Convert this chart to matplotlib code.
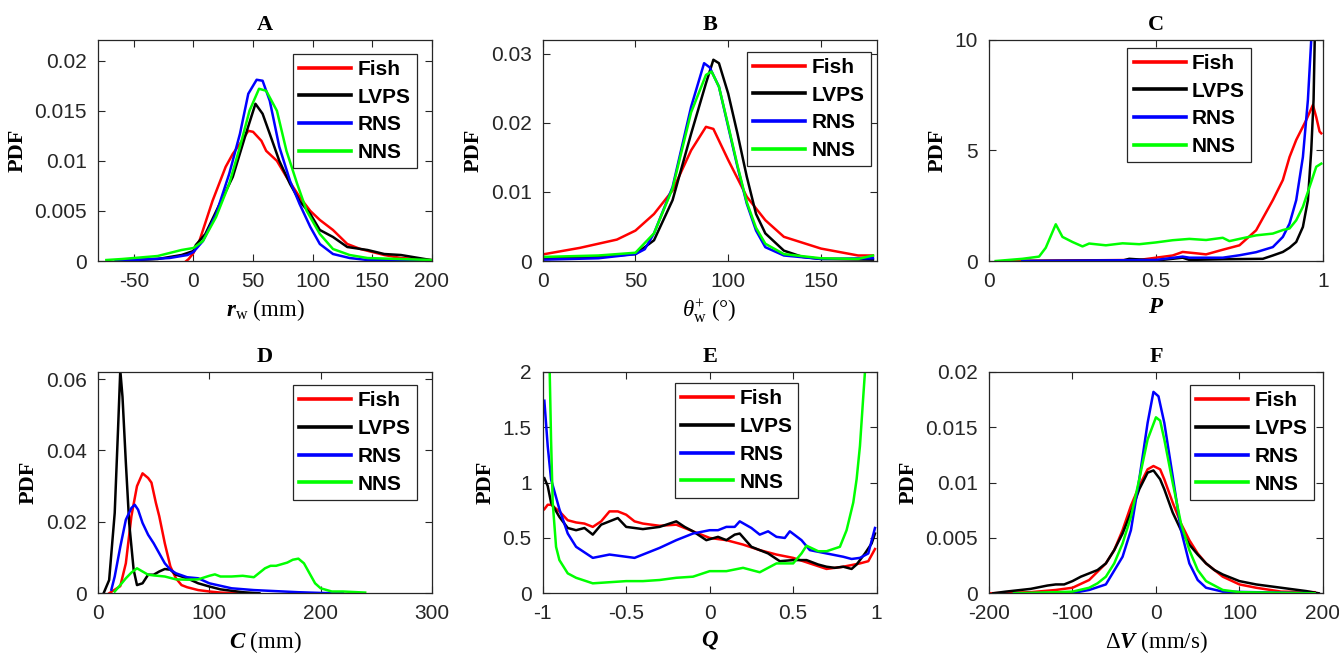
import matplotlib
matplotlib.use('Agg')
import matplotlib.pyplot as plt
from matplotlib.ticker import FuncFormatter

# fonts: arial-like ticks, times-like labels
plt.rcParams['font.family'] = 'Liberation Sans'
plt.rcParams['mathtext.fontset'] = 'custom'
plt.rcParams['mathtext.rm'] = 'Liberation Serif'
plt.rcParams['mathtext.it'] = 'Liberation Serif:italic'
plt.rcParams['mathtext.bf'] = 'Liberation Serif:bold'
plt.rcParams['mathtext.bfit'] = 'Liberation Serif:italic:bold'

names = ['Fish', 'LVPS', 'RNS', 'NNS']
colors = ['#ff0000', '#000000', '#0000ff', '#00ff00']

# A - r_w
a_fish_x = [-6, -4, 0, 5, 16, 27, 33, 39, 46, 50, 57, 61, 70, 78, 89, 98, 106, 117, 129, 140, 160, 174, 199]
a_fish_y = [0, 0.0002, 0.0008, 0.002, 0.006, 0.0094, 0.0107, 0.0117, 0.013, 0.0129, 0.012, 0.011, 0.010, 0.0084, 0.0064, 0.005, 0.0041, 0.0031, 0.0017, 0.0012, 0.0006, 0.0003, 0.0001]
a_lvps_x = [-65, -50, -30, -10, 0, 2, 10, 22, 33, 44, 52, 58, 64, 72, 81, 89, 98, 106, 117, 129, 146, 160, 174, 199]
a_lvps_y = [0, 0.0001, 0.0002, 0.0006, 0.001, 0.0016, 0.0027, 0.0057, 0.0084, 0.0127, 0.0157, 0.0147, 0.0127, 0.010, 0.0077, 0.006, 0.0047, 0.0031, 0.0024, 0.0014, 0.0011, 0.0007, 0.0006, 0.0001]
a_rns_x = [-65, -50, -35, -20, -5, 0, 8, 19, 30, 39, 46, 53, 58, 64, 72, 81, 89, 98, 106, 117, 131, 146, 200]
a_rns_y = [0, 0.0001, 0.0002, 0.0003, 0.0006, 0.0009, 0.002, 0.0047, 0.0087, 0.0127, 0.0167, 0.0181, 0.018, 0.016, 0.0114, 0.008, 0.0057, 0.0034, 0.0017, 0.0007, 0.0003, 0.0001, 0]
a_nns_x = [-73, -60, -50, -40, -30, -20, -10, -5, 0, 8, 19, 30, 39, 47, 55, 61, 70, 78, 87, 95, 106, 117, 131, 146, 200]
a_nns_y = [0.0001, 0.0002, 0.0003, 0.0004, 0.0005, 0.0008, 0.0011, 0.0012, 0.0013, 0.002, 0.0044, 0.0077, 0.0114, 0.015, 0.0172, 0.017, 0.015, 0.011, 0.0077, 0.005, 0.0027, 0.0012, 0.0006, 0.0003, 0.0001]

# B - theta_w
b_fish_x = [1, 20, 40, 50, 60, 70, 80, 88, 92, 100, 110, 120, 130, 150, 170, 178]
b_fish_y = [0.001, 0.0019, 0.0031, 0.0044, 0.0068, 0.0102, 0.016, 0.0194, 0.0191, 0.0146, 0.0093, 0.0059, 0.0035, 0.0018, 0.0008, 0.0008]
b_lvps_x = [1, 30, 50, 60, 70, 80, 88, 92, 95, 100, 105, 110, 115, 120, 130, 140, 150, 178]
b_lvps_y = [0.0004, 0.0006, 0.001, 0.003, 0.0088, 0.0184, 0.0257, 0.0291, 0.0286, 0.0242, 0.0184, 0.0122, 0.0068, 0.004, 0.0015, 0.0006, 0.0003, 0.0002]
b_rns_x = [1, 30, 50, 55, 60, 70, 80, 87, 90, 95, 100, 105, 110, 115, 120, 130, 150, 178]
b_rns_y = [0.0002, 0.0004, 0.001, 0.0017, 0.004, 0.0107, 0.0223, 0.0286, 0.028, 0.0252, 0.0194, 0.0136, 0.0083, 0.0044, 0.002, 0.0008, 0.0003, 0.0004]
b_nns_x = [1, 30, 50, 60, 70, 80, 88, 91, 95, 100, 105, 110, 115, 120, 130, 150, 170, 178]
b_nns_y = [0.0006, 0.0008, 0.0012, 0.004, 0.0105, 0.0215, 0.0269, 0.0274, 0.0252, 0.0196, 0.0138, 0.0085, 0.0048, 0.0025, 0.001, 0.0004, 0.0003, 0.0008]

# C - P
c_fish_x = [0.05, 0.2, 0.45, 0.5, 0.55, 0.58, 0.62, 0.65, 0.7, 0.75, 0.8, 0.85, 0.88, 0.9, 0.92, 0.95, 0.97, 0.98, 0.99, 0.995]
c_fish_y = [0, 0.02, 0.05, 0.15, 0.25, 0.41, 0.35, 0.3, 0.51, 0.71, 1.39, 2.75, 3.66, 4.7, 5.47, 6.37, 7.05, 6.5, 5.85, 5.77]
c_lvps_x = [0.1, 0.4, 0.42, 0.5, 0.58, 0.6, 0.7, 0.82, 0.85, 0.88, 0.9, 0.92, 0.94, 0.955, 0.965, 0.972, 0.978]
c_lvps_y = [0, 0.02, 0.1, 0.02, 0.15, 0.05, 0.08, 0.1, 0.25, 0.41, 0.6, 0.86, 1.54, 2.75, 5.0, 7.3, 12]
c_rns_x = [0.1, 0.3, 0.5, 0.58, 0.6, 0.7, 0.75, 0.8, 0.85, 0.88, 0.9, 0.92, 0.94, 0.955, 0.965, 0.97]
c_rns_y = [0, 0.02, 0.05, 0.2, 0.15, 0.15, 0.26, 0.4, 0.63, 1.09, 1.69, 2.75, 4.7, 7.28, 10, 12]
c_nns_x = [0.02, 0.1, 0.15, 0.17, 0.2, 0.22, 0.25, 0.28, 0.3, 0.35, 0.4, 0.45, 0.5, 0.55, 0.6, 0.65, 0.7, 0.72, 0.75, 0.8, 0.85, 0.88, 0.9, 0.92, 0.94, 0.96, 0.98, 0.995]
c_nns_y = [0, 0.1, 0.2, 0.6, 1.66, 1.09, 0.86, 0.66, 0.79, 0.71, 0.8, 0.76, 0.84, 0.94, 1.0, 0.95, 1.05, 0.9, 1.0, 1.16, 1.24, 1.4, 1.47, 1.84, 2.45, 3.35, 4.26, 4.4]

# D - C
d_fish_x = [10, 20, 25, 30, 35, 40, 45, 48, 52, 55, 60, 65, 70, 75, 80, 90, 100, 110, 125]
d_fish_y = [0, 0.002, 0.0084, 0.0216, 0.03, 0.0336, 0.0323, 0.031, 0.0253, 0.0216, 0.014, 0.0075, 0.0042, 0.0023, 0.0017, 0.0009, 0.0005, 0.0002, 0]
d_lvps_x = [5, 10, 15, 18, 20, 22, 25, 28, 32, 35, 40, 45, 50, 55, 60, 65, 70, 80, 90, 100, 110, 120, 130, 145]
d_lvps_y = [0, 0.0037, 0.0225, 0.046, 0.0625, 0.055, 0.0366, 0.0197, 0.0066, 0.0023, 0.0028, 0.0052, 0.0052, 0.0061, 0.0068, 0.0066, 0.0052, 0.0042, 0.0028, 0.0019, 0.0011, 0.0007, 0.0003, 0]
d_rns_x = [12, 15, 20, 25, 30, 33, 36, 40, 45, 50, 55, 60, 65, 70, 80, 90, 100, 120, 140, 160, 180, 200, 220]
d_rns_y = [0.001, 0.0047, 0.013, 0.0206, 0.0239, 0.0248, 0.0234, 0.0197, 0.0164, 0.014, 0.0112, 0.0084, 0.0066, 0.0056, 0.0045, 0.0042, 0.0028, 0.0014, 0.0009, 0.0006, 0.0003, 0.0001, 0]
d_nns_x = [15, 20, 25, 30, 35, 40, 45, 50, 60, 70, 80, 90, 100, 105, 110, 120, 130, 140, 150, 155, 160, 170, 175, 180, 185, 190, 195, 200, 210, 220, 240]
d_nns_y = [0.0005, 0.0023, 0.0042, 0.0058, 0.007, 0.0061, 0.0052, 0.005, 0.0047, 0.0039, 0.0038, 0.0039, 0.0049, 0.0053, 0.0047, 0.0047, 0.0049, 0.0045, 0.007, 0.0077, 0.0077, 0.0086, 0.0094, 0.0097, 0.0084, 0.0056, 0.0028, 0.0014, 0.0005, 0.0005, 0.0002]

# E - Q
e_fish_x = [-0.99, -0.97, -0.95, -0.9, -0.85, -0.8, -0.75, -0.7, -0.65, -0.6, -0.55, -0.5, -0.45, -0.4, -0.3, -0.2, -0.1, 0, 0.1, 0.2, 0.3, 0.4, 0.5, 0.6, 0.7, 0.8, 0.9, 0.95, 0.99]
e_fish_y = [0.76, 0.8, 0.8, 0.74, 0.66, 0.64, 0.63, 0.6, 0.65, 0.74, 0.74, 0.71, 0.65, 0.63, 0.61, 0.62, 0.56, 0.5, 0.48, 0.44, 0.39, 0.35, 0.32, 0.27, 0.22, 0.24, 0.27, 0.29, 0.4]
e_lvps_x = [-0.99, -0.97, -0.95, -0.9, -0.85, -0.8, -0.75, -0.7, -0.65, -0.6, -0.55, -0.5, -0.4, -0.3, -0.2, -0.15, -0.1, -0.02, 0.05, 0.1, 0.15, 0.18, 0.25, 0.35, 0.42, 0.5, 0.58, 0.65, 0.7, 0.75, 0.8, 0.85, 0.88, 0.93, 0.97, 0.99]
e_lvps_y = [1.04, 0.97, 0.82, 0.69, 0.59, 0.57, 0.59, 0.53, 0.62, 0.65, 0.68, 0.6, 0.58, 0.6, 0.65, 0.6, 0.56, 0.48, 0.51, 0.48, 0.53, 0.54, 0.42, 0.36, 0.29, 0.3, 0.3, 0.26, 0.24, 0.23, 0.24, 0.22, 0.26, 0.36, 0.45, 0.54]
e_rns_x = [-0.99, -0.97, -0.95, -0.9, -0.85, -0.8, -0.7, -0.6, -0.5, -0.45, -0.4, -0.3, -0.2, -0.1, 0, 0.05, 0.1, 0.15, 0.18, 0.25, 0.3, 0.35, 0.4, 0.45, 0.48, 0.55, 0.6, 0.7, 0.8, 0.85, 0.9, 0.95, 0.99]
e_rns_y = [1.74, 1.33, 1.03, 0.76, 0.54, 0.42, 0.32, 0.35, 0.33, 0.32, 0.35, 0.41, 0.48, 0.54, 0.57, 0.57, 0.6, 0.6, 0.65, 0.59, 0.53, 0.56, 0.51, 0.5, 0.56, 0.48, 0.39, 0.36, 0.33, 0.31, 0.32, 0.36, 0.59]
e_nns_x = [-0.97, -0.958, -0.95, -0.94, -0.92, -0.9, -0.85, -0.8, -0.7, -0.6, -0.5, -0.4, -0.3, -0.2, -0.1, 0, 0.1, 0.2, 0.3, 0.4, 0.5, 0.55, 0.58, 0.65, 0.7, 0.78, 0.82, 0.86, 0.88, 0.9, 0.92, 0.93, 0.95]
e_nns_y = [3.0, 2.0, 1.39, 0.82, 0.42, 0.3, 0.18, 0.14, 0.09, 0.1, 0.11, 0.11, 0.12, 0.14, 0.15, 0.2, 0.2, 0.23, 0.19, 0.27, 0.27, 0.36, 0.43, 0.38, 0.38, 0.42, 0.57, 0.82, 1.03, 1.33, 1.78, 2.0, 3.0]

# F - delta V
f_fish_x = [-200, -150, -120, -100, -80, -60, -50, -40, -30, -20, -10, -3, 5, 10, 20, 30, 40, 50, 60, 80, 100, 120, 150, 190]
f_fish_y = [0, 0.0001, 0.0003, 0.0005, 0.0012, 0.0027, 0.0039, 0.0057, 0.0079, 0.0097, 0.0112, 0.0115, 0.0112, 0.0103, 0.0082, 0.0063, 0.0048, 0.0036, 0.0027, 0.0015, 0.0008, 0.0005, 0.00015, 0.0001]
f_lvps_x = [-195, -180, -150, -130, -120, -110, -100, -90, -80, -70, -60, -50, -40, -30, -20, -10, -3, 5, 10, 20, 30, 40, 50, 60, 70, 80, 100, 120, 150, 180, 195]
f_lvps_y = [0, 0.00015, 0.0004, 0.0007, 0.0008, 0.0008, 0.0011, 0.0015, 0.0018, 0.0021, 0.0027, 0.0039, 0.0054, 0.0073, 0.0094, 0.0109, 0.0111, 0.0103, 0.0094, 0.0073, 0.0057, 0.0044, 0.0035, 0.0027, 0.0021, 0.0017, 0.0011, 0.0008, 0.0005, 0.0002, 0]
f_rns_x = [-170, -100, -80, -60, -40, -30, -20, -10, -3, 3, 10, 20, 30, 40, 50, 60, 80, 190]
f_rns_y = [0, 0.00003, 0.0003, 0.0008, 0.0033, 0.0057, 0.0103, 0.0154, 0.0182, 0.0178, 0.0154, 0.0106, 0.0057, 0.0027, 0.0012, 0.0005, 0.00015, 0]
f_nns_x = [-170, -120, -100, -80, -70, -60, -50, -40, -30, -20, -10, 0, 5, 10, 20, 30, 40, 50, 60, 80, 100, 190]
f_nns_y = [0, 0.0001, 0.00015, 0.0005, 0.0009, 0.0015, 0.0027, 0.0045, 0.0069, 0.0103, 0.0139, 0.0159, 0.0156, 0.0139, 0.01, 0.0063, 0.0039, 0.0021, 0.0011, 0.0003, 0.0001, 0]

panels = [
    ('A', [(a_fish_x, a_fish_y), (a_lvps_x, a_lvps_y), (a_rns_x, a_rns_y), (a_nns_x, a_nns_y)],
     r'$\mathbfit{r}_{\mathrm{w}}$ (mm)', (-80, 200), (0, 0.0221),
     [-50, 0, 50, 100, 150, 200], [0, 0.005, 0.01, 0.015, 0.02], (0.955, 0.937)),
    ('B', [(b_fish_x, b_fish_y), (b_lvps_x, b_lvps_y), (b_rns_x, b_rns_y), (b_nns_x, b_nns_y)],
     r'$\theta_{\mathrm{w}}^{+}$ (°)', (0, 180), (0, 0.032),
     [0, 50, 100, 150], [0, 0.01, 0.02, 0.03], (0.982, 0.946)),
    ('C', [(c_fish_x, c_fish_y), (c_lvps_x, c_lvps_y), (c_rns_x, c_rns_y), (c_nns_x, c_nns_y)],
     r'$\mathbfit{P}$', (0, 1), (0, 10),
     [0, 0.5, 1], [0, 5, 10], (0.785, 0.964)),
    ('D', [(d_fish_x, d_fish_y), (d_lvps_x, d_lvps_y), (d_rns_x, d_rns_y), (d_nns_x, d_nns_y)],
     r'$\mathbfit{C}$ (mm)', (0, 300), (0, 0.062),
     [0, 100, 200, 300], [0, 0.02, 0.04, 0.06], (0.955, 0.940)),
    ('E', [(e_fish_x, e_fish_y), (e_lvps_x, e_lvps_y), (e_rns_x, e_rns_y), (e_nns_x, e_nns_y)],
     r'$\mathbfit{Q}$', (-1, 1), (0, 2),
     [-1, -0.5, 0, 0.5, 1], [0, 0.5, 1, 1.5, 2], (0.766, 0.949)),
    ('F', [(f_fish_x, f_fish_y), (f_lvps_x, f_lvps_y), (f_rns_x, f_rns_y), (f_nns_x, f_nns_y)],
     r'$\Delta\mathbfit{V}$ (mm/s)', (-200, 200), (0, 0.02),
     [-200, -100, 0, 100, 200], [0, 0.005, 0.01, 0.015, 0.02], (0.973, 0.940)),
]

fig = plt.figure(figsize=(13.39, 6.56), dpi=100)
lefts = [0.0732, 0.4053, 0.7386]
bottoms = [0.6021, 0.0956]
gray = '#262626'
fmt = FuncFormatter(lambda v, p: '{:g}'.format(v))

for i, (title, series, xlabel, xlim, ylim, xt, yt, legpos) in enumerate(panels):
    ax = fig.add_axes([lefts[i % 3], bottoms[i // 3], 0.2494, 0.3374])
    for (x, y), c, n in zip(series, colors, names):
        ax.plot(x, y, color=c, lw=1.8, label=n)
    ax.set_xlim(xlim)
    ax.set_ylim(ylim)
    ax.set_xticks(xt)
    ax.set_yticks(yt)
    ax.xaxis.set_major_formatter(fmt)
    ax.yaxis.set_major_formatter(fmt)
    ax.tick_params(direction='in', top=True, right=True, length=5, width=0.8,
                   labelsize=15, colors=gray, pad=8)
    for s in ax.spines.values():
        s.set_color(gray)
        s.set_linewidth(0.9)
    ax.set_title(title, fontsize=16, fontweight='bold', family='Liberation Serif', pad=7)
    ax.set_ylabel('PDF', fontsize=16, fontweight='bold', family='Liberation Serif', labelpad=5)
    ax.set_xlabel(xlabel, fontsize=16.5, family='Liberation Serif', labelpad=4)
    leg = ax.legend(loc='upper right', bbox_to_anchor=legpos, borderaxespad=0,
                    fancybox=False, edgecolor='#262626', framealpha=1,
                    prop={'weight': 'bold', 'size': 15, 'family': 'Liberation Sans'},
                    handlelength=2.5, handletextpad=0.3, labelspacing=0.42,
                    borderpad=0.3)
    leg.get_frame().set_linewidth(0.9)
    for line in leg.get_lines():
        line.set_linewidth(2.6)

fig.savefig('out.png', dpi=100)
